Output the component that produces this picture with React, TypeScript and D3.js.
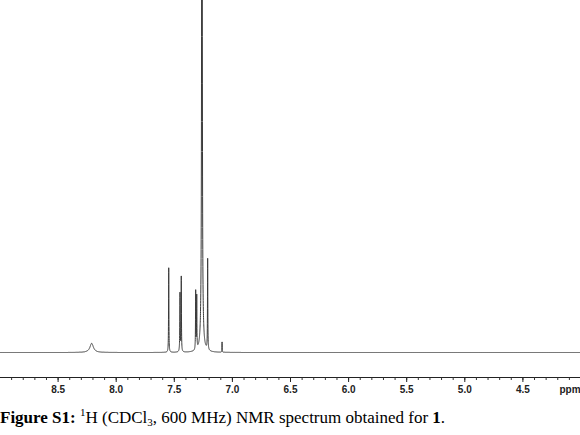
import React from "react";
import * as d3 from "d3";

// peak list (ppm, height in plot units, half width in ppm)
const peakShifts = [8.211, 7.548, 7.451, 7.44, 7.316, 7.307, 7.262, 7.262, 7.213, 7.089];
const peakHeights = [2.6, 24.0, 16.8, 21.2, 16.6, 15.2, 420, 6, 26.2, 3.0];
const peakWidths = [0.018, 0.0016, 0.0018, 0.0016, 0.0016, 0.0016, 0.0018, 0.012, 0.0016, 0.0012];

const majorTicks = [8.5, 8.0, 7.5, 7.0, 6.5, 6.0, 5.5, 5.0, 4.5];
const minorTicks = d3.range(89, 40, -1).map(d => d / 10);

const width = 580;
const height = 435;
const baseY = 352.5;
const axisY = 377.5;

const x = d3.scaleLinear().domain([9.0, 4.0]).range([0, 581]);
const y = d3.scaleLinear().domain([0, 100]).range([baseY, 0]);

function intensity(ppm: number) {
  let s = 0;
  for (let i = 0; i < peakShifts.length; i++) {
    const d = (ppm - peakShifts[i]) / peakWidths[i];
    s += peakHeights[i] / (1 + d * d);
  }
  return s;
}

const grid = d3.range(9.0, 4.0, -0.0004);

export default function App() {
  const line = d3
    .line<number>()
    .x(d => x(d))
    .y(d => y(intensity(d)));

  return (
    <svg
      width={width}
      height={height}
      style={{ position: "absolute", left: 0, top: 0, background: "#fff" }}
    >
      <defs>
        <clipPath id="plot">
          <rect x={0} y={0} width={width} height={axisY - 2} />
        </clipPath>
      </defs>
      <path
        d={line(grid) || ""}
        fill="none"
        stroke="#3a3a3a"
        strokeWidth={1}
        clipPath="url(#plot)"
      />

      {/* axis */}
      <line x1={0} x2={width} y1={axisY} y2={axisY} stroke="#222" strokeWidth={1} />
      {minorTicks.map(t => (
        <line key={"m" + t} x1={x(t)} x2={x(t)} y1={axisY} y2={axisY + 2.5} stroke="#333" />
      ))}
      {majorTicks.map(t => (
        <g key={t}>
          <line x1={x(t)} x2={x(t)} y1={axisY} y2={axisY + 4.5} stroke="#222" />
          <text
            x={x(t)}
            y={393}
            textAnchor="middle"
            fontFamily="Liberation Sans, Arial, sans-serif"
            fontWeight="bold"
            fontSize={10}
            fill="#222"
          >
            {t.toFixed(1)}
          </text>
        </g>
      ))}
      <text
        x={570}
        y={393}
        textAnchor="middle"
        fontFamily="Liberation Sans, Arial, sans-serif"
        fontWeight="bold"
        fontSize={10}
        fill="#222"
      >
        ppm
      </text>

      {/* caption */}
      <text x={0} y={423} fontFamily="Liberation Serif, Times New Roman, serif" fontSize={17} fill="#000">
        <tspan fontWeight="bold">Figure S1:</tspan>
        <tspan> </tspan>
        <tspan fontSize={11} dy={-7}>1</tspan>
        <tspan dy={7}>H (CDCl</tspan>
        <tspan fontSize={11} dy={3}>3</tspan>
        <tspan dy={-3}>, 600 MHz) NMR spectrum obtained for </tspan>
        <tspan fontWeight="bold">1</tspan>
        <tspan>.</tspan>
      </text>
    </svg>
  );
}
